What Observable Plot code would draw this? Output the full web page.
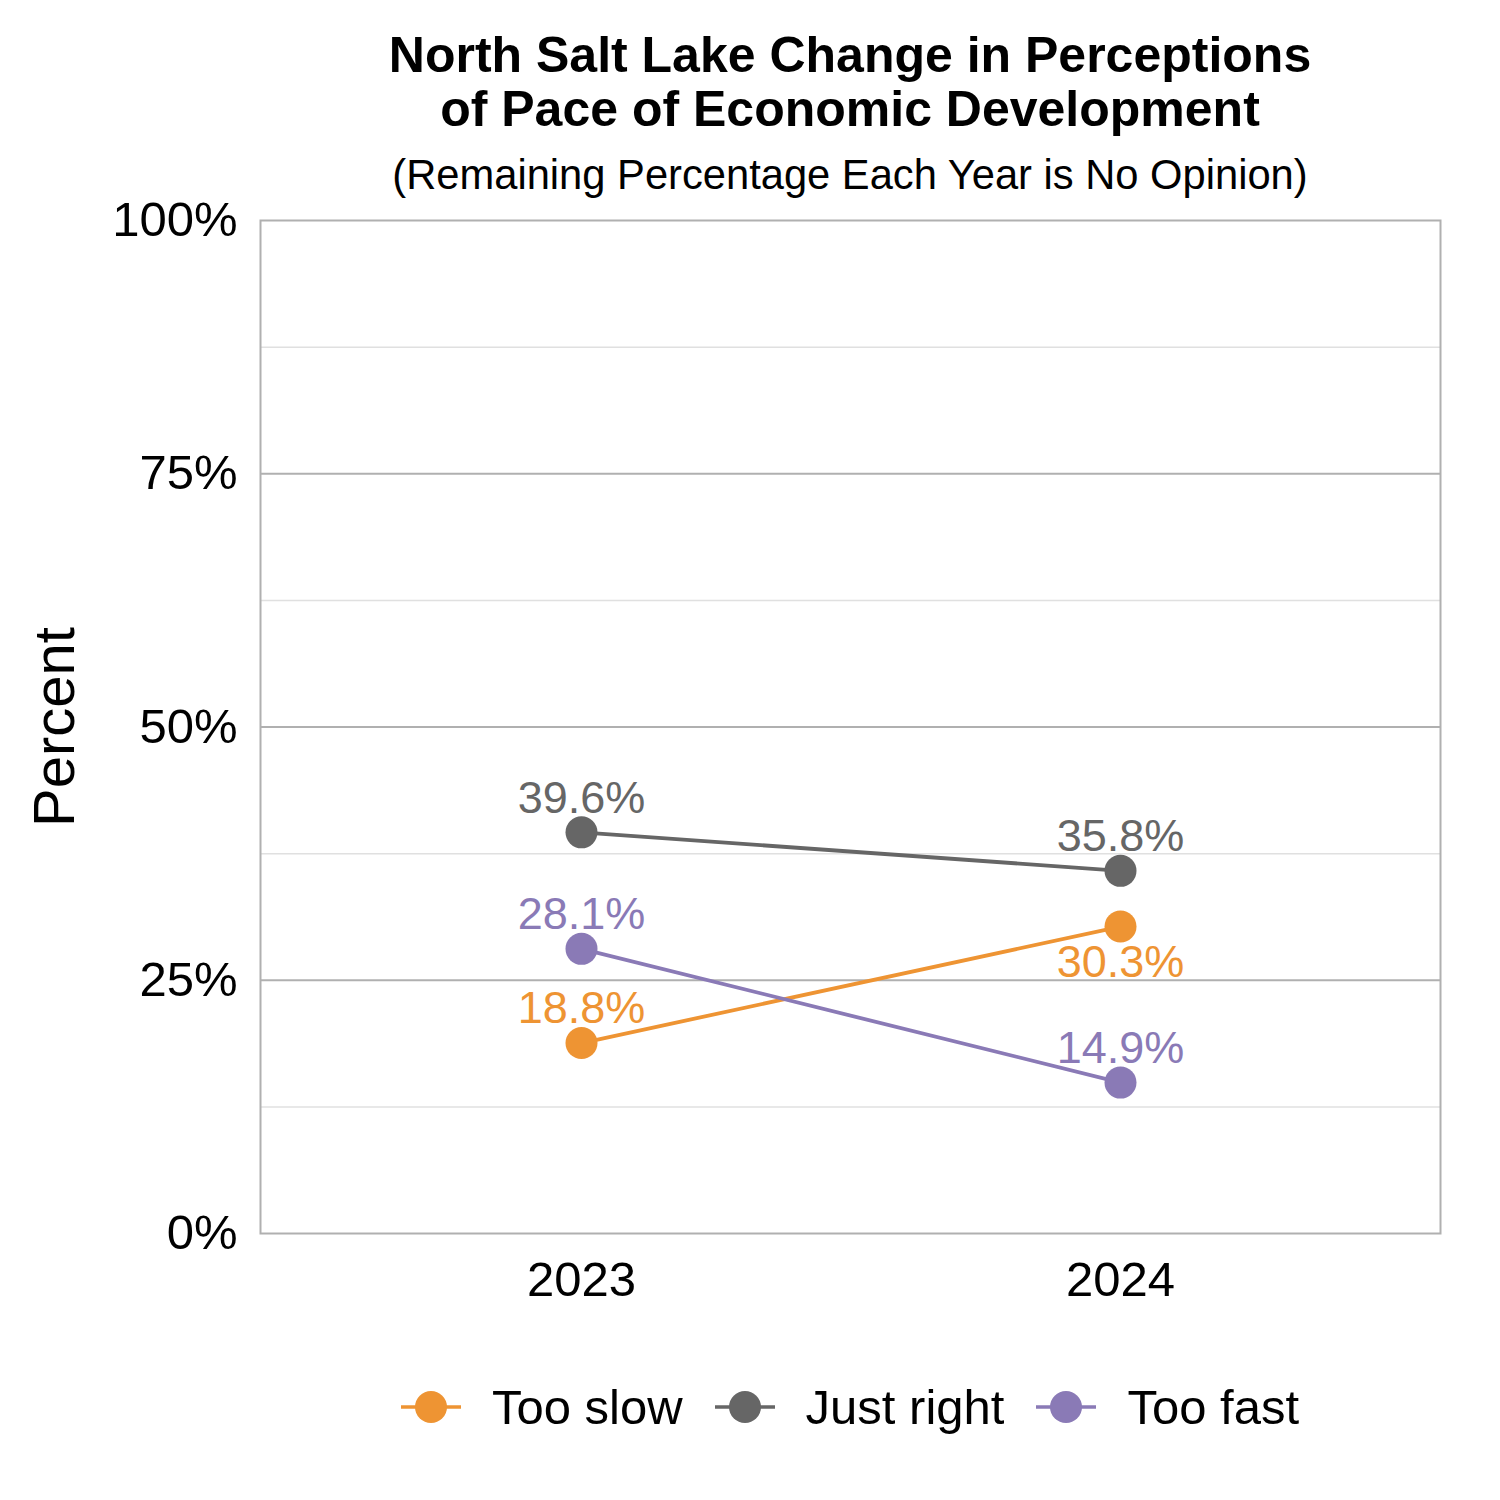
<!DOCTYPE html>
<html><head><meta charset="utf-8">
<script src="https://cdn.jsdelivr.net/npm/d3@7"></script>
<script src="https://cdn.jsdelivr.net/npm/@observablehq/plot@0.6"></script>
<style>
body{margin:0;background:#fff;font-family:"Liberation Sans",Arial,sans-serif;color:#000;}
#wrap{width:1500px;}
#title{height:200px;position:relative;}
.t{position:absolute;left:260px;width:1180px;text-align:center;white-space:nowrap;}
#legend{height:154px;margin-left:260px;width:1180px;display:flex;justify-content:center;align-items:center;font-size:49px;}
.item{display:flex;align-items:center;margin:0 16px;}
.item svg{margin-right:31px;}
</style></head><body>
<div id="wrap">
<div id="title">
 <div class="t" style="top:28px;font-size:50px;font-weight:bold;line-height:54px;">North Salt Lake Change in Perceptions<br>of Pace of Economic Development</div>
 <div class="t" style="top:154px;font-size:41.7px;line-height:42px;">(Remaining Percentage Each Year is No Opinion)</div>
</div>
<div id="chart"></div>
<div id="legend"></div>
</div>
<script>
const years = ["2023", "2024"];
const seriesNames = ["Too slow", "Just right", "Too fast"];
const values2023 = [18.8, 39.6, 28.1];
const values2024 = [30.3, 35.8, 14.9];
const colors = ["#EE9433", "#666666", "#8A7AB6"];
const yTicks = [0, 25, 50, 75, 100];
const majorGrid = [25, 50, 75];
const minorGrid = [12.5, 37.5, 62.5, 87.5];

const byYear = [values2023, values2024];
const rows = [];
seriesNames.forEach((s, i) => {
  years.forEach((y, j) => rows.push({series: s, year: y, value: byYear[j][i]}));
});
// label goes below the point when another point sits just above it in the same year
rows.forEach(r => {
  r.below = rows.some(o => o.year === r.year && o !== r && o.value > r.value && o.value - r.value < 8);
});

const font = '"Liberation Sans", Arial, sans-serif';
const plot = Plot.plot({
  width: 1500, height: 1130,
  marginTop: 20, marginBottom: 97, marginLeft: 260, marginRight: 60,
  style: {fontFamily: font, background: "#fff", color: "#000", overflow: "visible"},
  x: {type: "point", domain: years, padding: 0.593},
  y: {domain: [0, 100]},
  color: {domain: seriesNames, range: colors},
  marks: [
    Plot.ruleY(minorGrid, {stroke: "#e0e0e0", strokeWidth: 1.5}),
    Plot.ruleY(majorGrid, {stroke: "#b0b0b0", strokeWidth: 2}),
    Plot.frame({stroke: "#b0b0b0", strokeWidth: 2}),
    Plot.axisY({ticks: yTicks, tickFormat: d => d + "%", tickSize: 0, tickPadding: 23, fontSize: 49, label: null, fill: "#000"}),
    Plot.axisX({tickSize: 0, tickPadding: 28, fontSize: 49, label: null, fill: "#000"}),
    Plot.text(["Percent"], {frameAnchor: "left", textAnchor: "middle", lineAnchor: "middle", rotate: -90, dx: -205, fontSize: 58, fill: "#000"}),
    Plot.line(rows, {x: "year", y: "value", stroke: "series", z: "series", strokeWidth: 3.8}),
    Plot.dot(rows, {x: "year", y: "value", fill: "series", r: 16}),
    Plot.text(rows.filter(d => !d.below), {x: "year", y: "value", text: d => d.value.toFixed(1) + "%", fill: "series", dy: -34, fontSize: 45}),
    Plot.text(rows.filter(d => d.below), {x: "year", y: "value", text: d => d.value.toFixed(1) + "%", fill: "series", dy: 36, fontSize: 45})
  ]
});
document.getElementById("chart").appendChild(plot);

const legend = d3.select("#legend");
seriesNames.forEach((s, i) => {
  const item = legend.append("div").attr("class", "item");
  const svg = item.append("svg").attr("width", 60).attr("height", 40);
  svg.append("line").attr("x1", 0).attr("x2", 60).attr("y1", 20).attr("y2", 20)
    .attr("stroke", colors[i]).attr("stroke-width", 3.5);
  svg.append("circle").attr("cx", 30).attr("cy", 20).attr("r", 16).attr("fill", colors[i]);
  item.append("span").text(s);
});
</script>
</body></html>
